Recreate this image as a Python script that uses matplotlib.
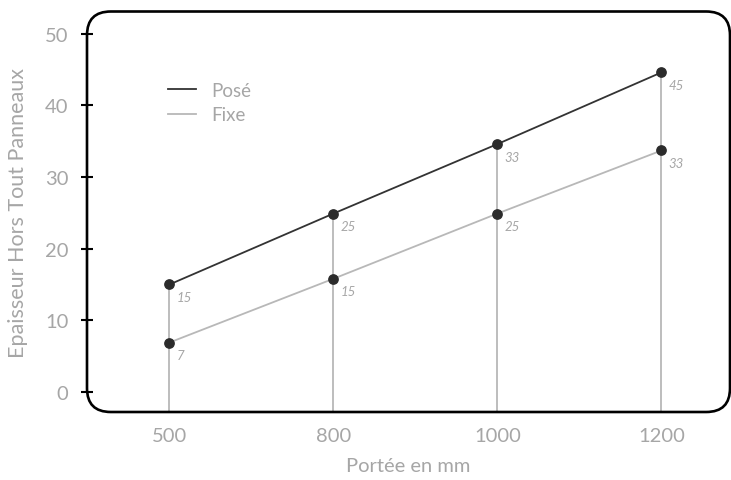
import matplotlib.pyplot as plt
from matplotlib.patches import FancyBboxPatch

# data
portee = ['500', '800', '1000', '1200']
pose = [15, 24.9, 34.6, 44.6]
fixe = [6.9, 15.8, 24.9, 33.7]
pose_labels = ['15', '25', '33', '45']
fixe_labels = ['7', '15', '25', '33']
y_ticks = [0, 10, 20, 30, 40, 50]

plt.rcParams['font.family'] = ['Lato', 'DejaVu Sans']

TXT = '#a6a6a6'
W, H = 731, 481
fig = plt.figure(figsize=(W / 100, H / 100), dpi=100)
left, right, top, bottom = 87, 730, 12.5, 413
ax = fig.add_axes([left / W, (H - bottom) / H, (right - left) / W, (bottom - top) / H])

x = list(range(len(portee)))
ymin, ymax = -2.8, 53.1
ax.set_xlim(-0.503, 3.418)
ax.set_ylim(ymin, ymax)

# vertical drop lines from the bottom of the frame up to the top point
ax.vlines(x, ymin, [max(p, f) for p, f in zip(pose, fixe)],
          color='#bdbdbd', lw=1.4, zorder=1)

ax.plot(x, pose, color='#333333', lw=1.3, label='Posé', zorder=2)
ax.plot(x, fixe, color='#b8b8b8', lw=1.3, label='Fixe', zorder=2)
ax.scatter(x, pose, s=45, color='#2b2b2b', zorder=3)
ax.scatter(x, fixe, s=45, color='#2b2b2b', zorder=3)

for xi, v, lab in zip(x, pose, pose_labels):
    ax.annotate(lab, (xi, v), xytext=(5, -12), textcoords='offset points',
                fontsize=9.5, style='italic', color=TXT)
for xi, v, lab in zip(x, fixe, fixe_labels):
    ax.annotate(lab, (xi, v), xytext=(5, -12), textcoords='offset points',
                fontsize=9.5, style='italic', color=TXT)

# rounded frame
for s in ax.spines.values():
    s.set_visible(False)
w_px, h_px = right - left, bottom - top
frame = FancyBboxPatch((0, 0), 1, 1, boxstyle='round,pad=0,rounding_size=0.037',
                       mutation_aspect=w_px / h_px, transform=ax.transAxes,
                       fill=False, ec='black', lw=1.9, clip_on=False, zorder=4)
ax.add_patch(frame)

ax.set_xticks(x, portee)
ax.set_yticks(y_ticks)
ax.tick_params(axis='x', length=0, pad=11, labelsize=14.5, labelcolor=TXT)
ax.tick_params(axis='y', direction='inout', length=8.5, width=1.5, color='black',
               pad=9, labelsize=14.5, labelcolor=TXT)

ax.set_xlabel('Portée en mm', fontsize=14.5, color=TXT, labelpad=9)
ax.set_ylabel('Epaisseur Hors Tout Panneaux', fontsize=15.5, color=TXT, labelpad=12)

leg = ax.legend(loc='upper left', bbox_to_anchor=(0.126, 0.825), frameon=False,
                fontsize=13.5, handlelength=1.5, handletextpad=0.8, labelspacing=0.4,
                borderpad=0, borderaxespad=0)
for t in leg.get_texts():
    t.set_color(TXT)

fig.savefig('out.png', dpi=100)
